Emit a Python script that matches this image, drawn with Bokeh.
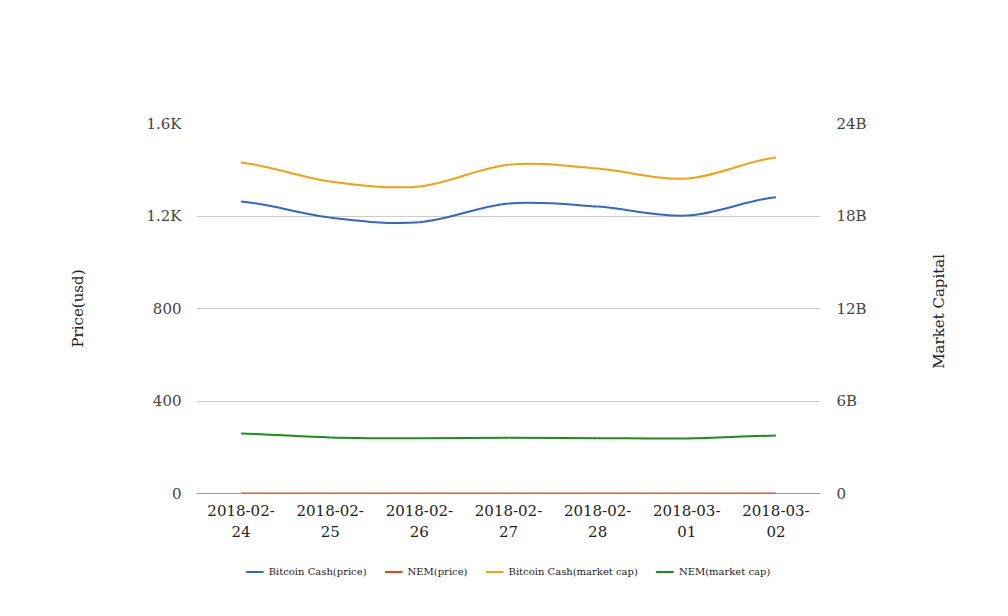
import math
from bokeh.plotting import figure
from bokeh.layouts import column, row
from bokeh.models import Range1d, LinearAxis, Legend, LegendItem, FixedTicker, ColumnDataSource, Label
from bokeh.embed import file_html
from bokeh.resources import INLINE

dates = ["2018-02-\n24", "2018-02-\n25", "2018-02-\n26", "2018-02-\n27", "2018-02-\n28", "2018-03-\n01", "2018-03-\n02"]
bch_price = [1263, 1193, 1173, 1254, 1241, 1202, 1281]
nem_price = [0.42, 0.40, 0.38, 0.39, 0.38, 0.37, 0.38]
bch_cap = [21.47e9, 20.24e9, 19.92e9, 21.33e9, 21.08e9, 20.43e9, 21.80e9]
nem_cap = [3.89e9, 3.64e9, 3.58e9, 3.62e9, 3.59e9, 3.57e9, 3.76e9]

left_ticks = [0, 400, 800, 1200, 1600]
left_labels = {0: "0", 400: "400", 800: "800", 1200: "1.2K", 1600: "1.6K"}
right_ticks = [0, 6e9, 12e9, 18e9, 24e9]
right_labels = {0: "0", 6e9: "6B", 12e9: "12B", 18e9: "18B", 24e9: "24B"}

FONT = "DejaVu Serif"

p = figure(frame_width=624, frame_height=370, output_backend="svg", toolbar_location=None,
           x_range=Range1d(-0.5, len(dates) - 0.5), y_range=Range1d(0, 1600),
           min_border_left=196, min_border_right=100, min_border_top=123, min_border_bottom=0)
p.extra_y_ranges = {"cap": Range1d(0, 24e9)}
p.outline_line_color = None
p.background_fill_color = "white"


def smooth_segments(xs, ys, k=0.5):
    n = len(xs)
    m = []
    for i in range(n):
        if i == 0:
            m.append((ys[1] - ys[0]) / (xs[1] - xs[0]) * 0.5)
        elif i == n - 1:
            m.append((ys[-1] - ys[-2]) / (xs[-1] - xs[-2]) * 0.5)
        else:
            m.append((ys[i + 1] - ys[i - 1]) / (xs[i + 1] - xs[i - 1]) * k * 2)
    d = dict(x0=[], y0=[], x1=[], y1=[], cx0=[], cy0=[], cx1=[], cy1=[])
    for i in range(n - 1):
        h = xs[i + 1] - xs[i]
        d["x0"].append(xs[i]); d["y0"].append(ys[i])
        d["x1"].append(xs[i + 1]); d["y1"].append(ys[i + 1])
        d["cx0"].append(xs[i] + h / 3); d["cy0"].append(ys[i] + m[i] * h / 3)
        d["cx1"].append(xs[i + 1] - h / 3); d["cy1"].append(ys[i + 1] - m[i + 1] * h / 3)
    return ColumnDataSource(d)


xs = list(range(len(dates)))
series = [
    ("Bitcoin Cash(price)", bch_price, "#3366cc", "default"),
    ("NEM(price)", nem_price, "#dc4a1e", "default"),
    ("Bitcoin Cash(market cap)", bch_cap, "#f5a00f", "cap"),
    ("NEM(market cap)", nem_cap, "#169016", "cap"),
]

# x axis baseline
p.segment(x0=[-0.5], y0=[0], x1=[len(dates) - 0.5], y1=[0], line_color="#333333", line_width=1)

# legend lives in a thin companion figure below the chart (its lines sit outside its visible range)
leg_fig = figure(width=992, height=52, output_backend="svg", toolbar_location=None,
                 x_range=Range1d(0, 1), y_range=Range1d(-1e12, -1e12 + 1),
                 min_border_left=24, min_border_right=0, min_border_top=0, min_border_bottom=0)
leg_fig.axis.visible = False
leg_fig.grid.visible = False
leg_fig.outline_line_color = None

items = []
for name, ys, color, rng in series:
    src = smooth_segments(xs, ys)
    kw = {} if rng == "default" else {"y_range_name": "cap"}
    p.bezier(x0="x0", y0="y0", x1="x1", y1="y1", cx0="cx0", cy0="cy0", cx1="cx1", cy1="cy1",
             source=src, line_color=color, line_width=2, **kw)
    key = leg_fig.line(x=xs, y=ys, line_color=color, line_width=2)
    items.append(LegendItem(label=name, renderers=[key]))


def style_axis(ax, label_color="#444444"):
    ax.axis_line_color = None
    ax.major_tick_line_color = None
    ax.minor_tick_line_color = None
    ax.major_tick_out = 0
    ax.major_tick_in = 0
    ax.minor_tick_out = 0
    ax.minor_tick_in = 0
    ax.major_label_text_font = FONT
    ax.major_label_text_font_size = "15px"
    ax.major_label_text_color = label_color


# left axis
ya = p.yaxis[0]
ya.ticker = FixedTicker(ticks=left_ticks)
ya.major_label_overrides = left_labels
style_axis(ya)
ya.major_label_standoff = 15
ya.axis_label = "Price(usd)"
ya.axis_label_text_font = FONT
ya.axis_label_text_font_style = "normal"
ya.axis_label_text_font_size = "15px"
ya.axis_label_text_color = "#222222"
ya.axis_label_standoff = 56

# right axis
ra = LinearAxis(y_range_name="cap", ticker=FixedTicker(ticks=right_ticks))
ra.major_label_overrides = right_labels
style_axis(ra)
ra.major_label_standoff = 16
p.add_layout(ra, "right")

# x axis
xa = p.xaxis[0]
xa.ticker = FixedTicker(ticks=xs)
xa.major_label_overrides = {i: d for i, d in enumerate(dates)}
style_axis(xa, "#222222")
xa.major_label_standoff = 8

p.xgrid.grid_line_color = None
p.ygrid.grid_line_color = "#cccccc"
p.ygrid.ticker = FixedTicker(ticks=left_ticks)

# right axis title in a narrow companion figure, reading bottom-to-top
LAB_H = 545
lab_fig = figure(width=72, height=LAB_H, output_backend="svg", toolbar_location=None,
                 x_range=Range1d(0, 72), y_range=Range1d(0, LAB_H), min_border=0)
lab_fig.axis.visible = False
lab_fig.grid.visible = False
lab_fig.outline_line_color = None
lab_fig.add_layout(Label(x=18, y=LAB_H - 276, text="Market Capital", angle=math.pi / 2,
                         text_align="center", text_baseline="middle", text_font=FONT,
                         text_font_size="15px", text_color="#222222"))

legend = Legend(items=items, orientation="horizontal", location="center",
                label_text_font=FONT, label_text_font_size="10px", label_text_color="#222222",
                glyph_width=18, glyph_height=10, spacing=18, label_standoff=5,
                border_line_color=None, background_fill_alpha=0, margin=0, padding=0)
leg_fig.add_layout(legend, "center")

layout = column(row(p, lab_fig, spacing=0), leg_fig, spacing=0)
open("out.html", "w").write(file_html(layout, INLINE))
